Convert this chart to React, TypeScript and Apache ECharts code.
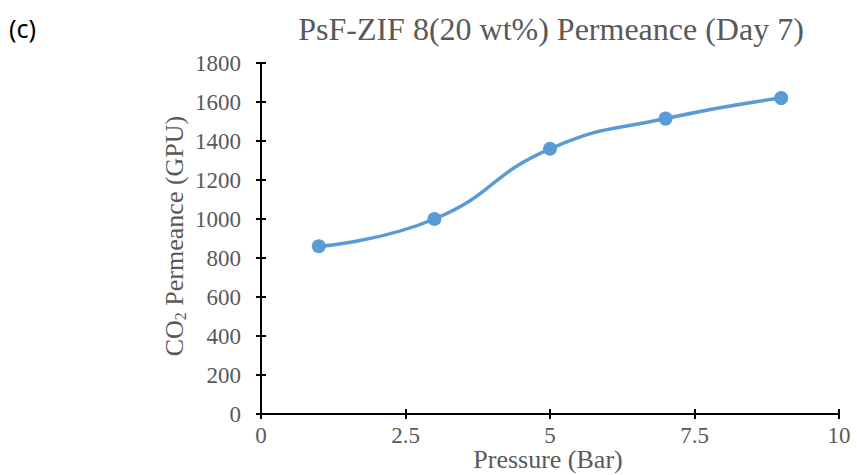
import React, { useEffect, useRef } from "react";
import * as echarts from "echarts";

const pressure = [1, 3, 5, 7, 9];
const permeance = [860, 1000, 1360, 1515, 1620];
const xTicks = [0, 2.5, 5, 7.5, 10];
const yTicks = [0, 200, 400, 600, 800, 1000, 1200, 1400, 1600, 1800];

const titleText = "PsF-ZIF 8(20 wt%) Permeance (Day 7)";
const panelLabel = "(c)";
const xName = "Pressure (Bar)";

const SERIF = "'Liberation Serif', 'Times New Roman', serif";
const GREY = "#595959";

export default function App() {
  const ref = useRef<HTMLDivElement>(null);
  useEffect(() => {
    if (!ref.current) return;
    const chart = echarts.init(ref.current, null, { renderer: "svg" });
    const left = 261, right = 18, top = 63, bottom = 61;
    const xMin = xTicks[0], xMax = xTicks[xTicks.length - 1];
    const yMin = yTicks[0], yMax = yTicks[yTicks.length - 1];
    const xInt = xTicks[1] - xTicks[0];
    const yInt = yTicks[1] - yTicks[0];
    const axisLabel = { color: GREY, fontFamily: SERIF, fontSize: 23 };
    chart.setOption({
      animation: false,
      backgroundColor: "#ffffff",
      grid: { left, right, top, bottom, containLabel: false },
      xAxis: [
        {
          type: "value", min: xMin, max: xMax, interval: xInt,
          axisLine: { show: true, onZero: false, lineStyle: { color: "#000", width: 2 } },
          axisTick: { show: true, length: 5, lineStyle: { color: "#000", width: 2 } },
          axisLabel: { ...axisLabel, margin: 10, formatter: (v: number) => String(v) },
          splitLine: { show: false },
        },
        {
          type: "value", position: "bottom", min: xMin, max: xMax, interval: xInt,
          axisLine: { show: false },
          axisTick: { show: true, inside: true, length: 5, lineStyle: { color: "#000", width: 2 } },
          axisLabel: { show: false },
          splitLine: { show: false },
        },
      ],
      yAxis: [
        {
          type: "value", min: yMin, max: yMax, interval: yInt,
          axisLine: { show: true, onZero: false, lineStyle: { color: "#000", width: 2 } },
          axisTick: { show: true, length: 5, lineStyle: { color: "#000", width: 2 } },
          axisLabel: { ...axisLabel, margin: 20, formatter: (v: number) => String(v) },
          splitLine: { show: false },
        },
        {
          type: "value", position: "left", min: yMin, max: yMax, interval: yInt,
          axisLine: { show: false },
          axisTick: { show: true, inside: true, length: 5, lineStyle: { color: "#000", width: 2 } },
          axisLabel: { show: false },
          splitLine: { show: false },
        },
      ],
      series: [
        {
          type: "line",
          xAxisIndex: 0,
          yAxisIndex: 0,
          data: pressure.map((p, i) => [p, permeance[i]]),
          smooth: 0.5,
          symbol: "circle",
          symbolSize: 14,
          lineStyle: { color: "#5B9BD5", width: 3.5 },
          itemStyle: { color: "#5B9BD5" },
        },
      ],
      graphic: [
        {
          type: "text", x: 551, y: 29,
          style: { text: titleText, fill: GREY, font: `32px ${SERIF}`, textAlign: "center", textVerticalAlign: "middle" },
        },
        {
          type: "text", x: 9, y: 28,
          style: { text: panelLabel, fill: "#000", font: "25px 'Noto Sans', sans-serif", textAlign: "left", textVerticalAlign: "middle" },
        },
        {
          type: "text", x: 548, y: 459,
          style: { text: xName, fill: GREY, font: `26px ${SERIF}`, textAlign: "center", textVerticalAlign: "middle" },
        },
        {
          type: "text", x: 174, y: 236, rotation: Math.PI / 2,
          style: {
            text: "{a|CO}{b|2}{a| Permeance (GPU)}",
            textAlign: "center", textVerticalAlign: "middle",
            rich: {
              a: { fill: GREY, fontFamily: SERIF, fontSize: 26 },
              b: { fill: GREY, fontFamily: SERIF, fontSize: 16, padding: [12, 0, 0, 0] },
            },
          },
        },
      ],
    });
    return () => chart.dispose();
  }, []);
  return <div ref={ref} style={{ position: "fixed", left: 0, top: 0, width: 857, height: 475 }} />;
}
